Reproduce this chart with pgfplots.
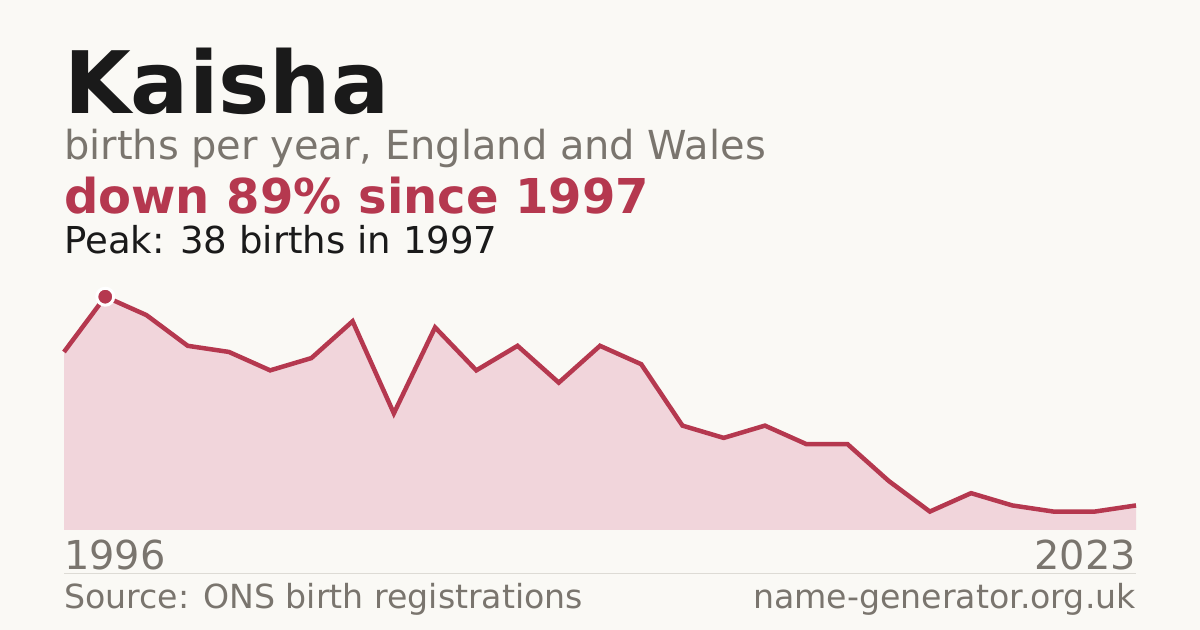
\documentclass[border=0pt]{standalone}
\usepackage{pgfplots}
\pgfplotsset{compat=1.18}
\usepackage{fontspec}
\setmainfont{DejaVu Sans}
\definecolor{bg}{HTML}{FAF9F5}
\definecolor{accent}{HTML}{B5384F}
\definecolor{areafill}{HTML}{F1D5DB}
\definecolor{muted}{HTML}{7A756E}
\definecolor{ink}{HTML}{1A1A1A}
\definecolor{rule}{HTML}{DDDBD5}
\begin{document}
\begin{tikzpicture}[x=1bp,y=1bp]
\fill[bg] (0,0) rectangle (1200,630);
\useasboundingbox (0,0) rectangle (1200,630);
\node[anchor=base west,inner sep=0pt,text=ink,font={\fontsize{86.5}{90}\selectfont\bfseries}] at (64,516.7) {Kaisha};
\node[anchor=base west,inner sep=0pt,text=muted,font={\fontsize{40.1}{44}\selectfont}] at (64,470) {births per year, England and Wales};
\node[anchor=base west,inner sep=0pt,text=accent,font={\fontsize{48.2}{50}\selectfont\bfseries}] at (64,416) {down 89\% since 1997};
\node[anchor=base west,inner sep=0pt,text=ink,font={\fontsize{37.2}{40}\selectfont}] at (64,376.7) {Peak: 38 births in 1997};
\begin{axis}[
  at={(64bp,100bp)}, anchor=south west,
  width=1072bp, height=233.3bp, scale only axis,
  xmin=0, xmax=26, ymin=0, ymax=38,
  hide axis, clip=false,
]
\addplot[fill=areafill, draw=none] coordinates {
(0,29) (1,38) (2,35) (3,30) (4,29) (5,26) (6,28) (7,34) (8,19) (9,33)
(10,26) (11,30) (12,24) (13,30) (14,27) (15,17) (16,15) (17,17) (18,14) (19,14)
(20,8) (21,3) (22,6) (23,4) (24,3) (25,3) (26,4)
} \closedcycle;
\addplot[accent, line width=4.5bp, mark=none] coordinates {
(0,29) (1,38) (2,35) (3,30) (4,29) (5,26) (6,28) (7,34) (8,19) (9,33)
(10,26) (11,30) (12,24) (13,30) (14,27) (15,17) (16,15) (17,17) (18,14) (19,14)
(20,8) (21,3) (22,6) (23,4) (24,3) (25,3) (26,4)
};
\addplot[only marks, mark=*, mark size=8.5bp, mark options={fill=accent, draw=white, line width=3bp}] coordinates {(1,38)};
\end{axis}
\node[anchor=base west,inner sep=0pt,text=muted,font={\fontsize{40}{44}\selectfont}] at (64,60) {1996};
\node[anchor=base east,inner sep=0pt,text=muted,font={\fontsize{40}{44}\selectfont}] at (1136,60) {2023};
\draw[rule, line width=1bp] (64,56) -- (1136,56);
\node[anchor=base west,inner sep=0pt,text=muted,font={\fontsize{33.3}{36}\selectfont}] at (64,21) {Source: ONS birth registrations};
\node[anchor=base east,inner sep=0pt,text=muted,font={\fontsize{33.3}{36}\selectfont}] at (1136,21) {name-generator.org.uk};
\end{tikzpicture}
\end{document}
